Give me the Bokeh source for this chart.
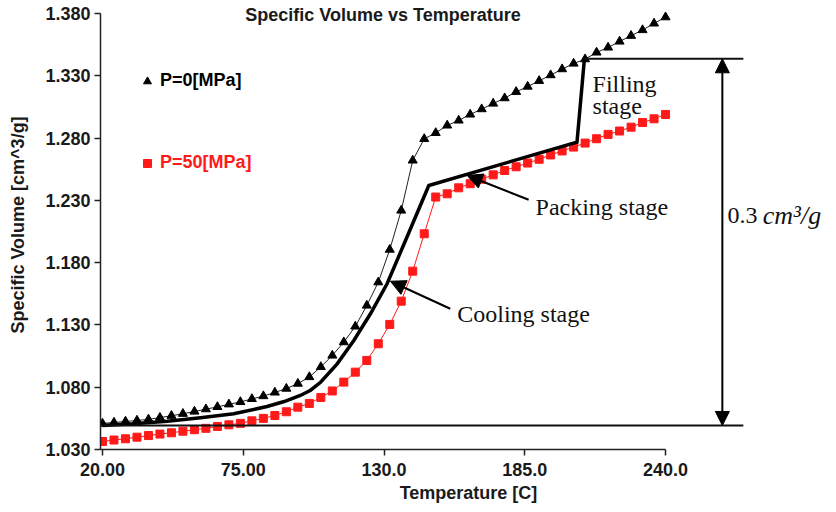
from bokeh.plotting import figure
from bokeh.models import (FixedTicker, Legend, LegendItem, Label, Arrow, NormalHead,
                          ColumnDataSource)
from bokeh.embed import file_html
from bokeh.resources import INLINE

# ---------------- data ----------------
temps = [20.00, 24.49, 28.98, 33.47, 37.96, 42.45, 46.94, 51.43, 55.92, 60.41,
         64.90, 69.39, 73.88, 78.37, 82.86, 87.35, 91.84, 96.33, 100.82, 105.31,
         109.80, 114.29, 118.78, 123.27, 127.76, 132.24, 136.73, 141.22, 145.71, 150.20,
         154.69, 159.18, 163.67, 168.16, 172.65, 177.14, 181.63, 186.12, 190.61, 195.10,
         199.59, 204.08, 208.57, 213.06, 217.55, 222.04, 226.53, 231.02, 235.51, 240.00]

v_p0 = [1.0509, 1.0517, 1.0525, 1.0533, 1.0542, 1.0556, 1.0571, 1.0587, 1.0605, 1.0624,
        1.0642, 1.0663, 1.0682, 1.0706, 1.0729, 1.0758, 1.0789, 1.0829, 1.0882, 1.0963,
        1.1055, 1.1162, 1.1288, 1.1456, 1.1643, 1.1905, 1.2219, 1.2621, 1.2794, 1.2842,
        1.2902, 1.2942, 1.2990, 1.3033, 1.3078, 1.3121, 1.3172, 1.3214, 1.3260, 1.3306,
        1.3354, 1.3399, 1.3434, 1.3488, 1.3528, 1.3576, 1.3622, 1.3668, 1.3721, 1.3771]

v_p50 = [1.0364, 1.0376, 1.0386, 1.0399, 1.0412, 1.0424, 1.0434, 1.0447, 1.0459, 1.0470,
         1.0485, 1.0498, 1.0510, 1.0530, 1.0550, 1.0573, 1.0603, 1.0640, 1.0670, 1.0718,
         1.0770, 1.0841, 1.0921, 1.1015, 1.1149, 1.1304, 1.1491, 1.1732, 1.2032, 1.2327,
         1.2353, 1.2401, 1.2434, 1.2470, 1.2505, 1.2540, 1.2570, 1.2600, 1.2630, 1.2665,
         1.2697, 1.2728, 1.2760, 1.2795, 1.2830, 1.2857, 1.2888, 1.2925, 1.2955, 1.2990]

# process path (filling -> packing -> cooling)
proc_t = [20.0, 32.1, 45.3, 58.3, 71.3, 84.3, 91.0, 97.3, 101.3, 105.2, 111.7, 118.2,
          124.7, 131.2, 138.4, 147.5, 205.4, 208.3]
proc_v = [1.0493, 1.0506, 1.0527, 1.0555, 1.0587, 1.0645, 1.0685, 1.0734, 1.0776, 1.0840,
          1.0988, 1.1175, 1.1390, 1.1631, 1.1978, 1.2420, 1.2768, 1.3437]

x_ticks = [20, 75, 130, 185, 240]
x_tick_labels = ["20.00", "75.00", "130.0", "185.0", "240.0"]
y_ticks = [1.03, 1.08, 1.13, 1.18, 1.23, 1.28, 1.33, 1.38]
y_tick_labels = ["1.030", "1.080", "1.130", "1.180", "1.230", "1.280", "1.330", "1.380"]

series_names = ["P=0[MPa]", "P=50[MPa]"]

# ---------------- figure ----------------
SANS = "Liberation Sans"
SERIF = "Liberation Serif"
X_START = 19.22

p = figure(width=836, height=512, output_backend="svg", toolbar_location=None,
           x_range=(X_START, 306.8), y_range=(1.030, 1.3905),
           min_border_left=100, min_border_right=0, min_border_top=0, min_border_bottom=63,
           background_fill_color="white", border_fill_color="white")
p.outline_line_color = None
p.xgrid.visible = False
p.ygrid.visible = False

for ax in (p.xaxis[0], p.yaxis[0]):
    ax.minor_tick_line_color = None
    ax.major_tick_in = 0
    ax.major_tick_out = 6
    ax.axis_line_width = 1.5
    ax.axis_line_color = "#222222"
    ax.major_tick_line_width = 1.5
    ax.major_tick_line_color = "#222222"
    ax.major_label_text_font = SANS
    ax.major_label_text_font_style = "bold"
    ax.major_label_text_font_size = "18px"
    ax.major_label_text_color = "#1a1a1a"
    ax.axis_label_text_font = SANS
    ax.axis_label_text_font_style = "bold"
    ax.axis_label_text_font_size = "18px"
    ax.axis_label_text_color = "#1a1a1a"

xa = p.xaxis[0]
xa.ticker = FixedTicker(ticks=x_ticks)
xa.major_label_overrides = {t: l for t, l in zip(x_ticks, x_tick_labels)}
xa.bounds = (X_START, x_ticks[-1])
xa.major_label_standoff = 7
xa.axis_label = "Temperature [C]"
xa.axis_label_standoff = 4

ya = p.yaxis[0]
ya.ticker = FixedTicker(ticks=y_ticks)
ya.major_label_overrides = {t: l for t, l in zip(y_ticks, y_tick_labels)}
ya.bounds = (y_ticks[0], y_ticks[-1])
ya.major_label_standoff = 4
ya.axis_label = "Specific Volume [cm^3/g]"
ya.axis_label_standoff = 14

# ---------------- series ----------------
src0 = ColumnDataSource(dict(t=temps, v=v_p0))
src50 = ColumnDataSource(dict(t=temps, v=v_p50))

p.line("t", "v", source=src50, line_color="#ff1a1a", line_width=1)
r50 = p.scatter("t", "v", source=src50, marker="square", size=8,
                fill_color="#ff1a1a", line_color="#ff1a1a")
p.line("t", "v", source=src0, line_color="#222222", line_width=1)
r0 = p.scatter("t", "v", source=src0, marker="triangle", size=9,
               fill_color="black", line_color="black")

p.line(proc_t, proc_v, line_color="black", line_width=3.5, line_join="miter")

# reference lines for the 0.3 cm3/g span
right_end = 270.4
p.segment(x0=[proc_t[-1], X_START], y0=[proc_v[-1], proc_v[0]],
          x1=[right_end, right_end], y1=[proc_v[-1], proc_v[0]],
          line_color="#111111", line_width=2)
p.add_layout(Arrow(start=NormalHead(size=14, fill_color="black", line_color="black"),
                   end=NormalHead(size=14, fill_color="black", line_color="black"),
                   x_start=262.2, y_start=proc_v[-1], x_end=262.2, y_end=proc_v[0],
                   line_color="black", line_width=2))

# ---------------- legends ----------------
def make_legend(name, renderer, color, loc):
    return Legend(items=[LegendItem(label=name, renderers=[renderer])], location=loc,
                  background_fill_alpha=0, border_line_color=None, padding=0, margin=0,
                  spacing=0, glyph_width=20, glyph_height=20, label_standoff=3,
                  label_text_font=SANS, label_text_font_style="bold",
                  label_text_font_size="18px", label_text_color=color)

p.add_layout(make_legend(series_names[0], r0, "black", (37, 358)))
p.add_layout(make_legend(series_names[1], r50, "#ff1a1a", (37, 276)))

# ---------------- texts ----------------
p.add_layout(Label(x=129.6, y=1.3785, text="Specific Volume vs Temperature",
                   text_align="center", text_baseline="middle", text_font=SANS,
                   text_font_style="bold", text_font_size="18px", text_color="#1a1a1a"))

def serif_label(x, y, text, style="normal", size="24px"):
    p.add_layout(Label(x=x, y=y, text=text, text_align="left", text_baseline="middle",
                       text_font=SERIF, text_font_size=size, text_font_style=style,
                       text_color="#111111"))

serif_label(211.5, 1.3238, "Filling")
serif_label(211.5, 1.3054, "stage")
serif_label(189.2, 1.2251, "Packing stage")
serif_label(158.6, 1.1386, "Cooling stage")
serif_label(264.2, 1.2181, "0.3")
serif_label(278.0, 1.2181, "cm³/g", style="italic", size="26px")

p.add_layout(Arrow(end=NormalHead(size=15, fill_color="black", line_color="black"),
                   x_start=186.5, y_start=1.2305, x_end=162.5, y_end=1.2500,
                   line_color="black", line_width=2))
p.add_layout(Arrow(end=NormalHead(size=15, fill_color="black", line_color="black"),
                   x_start=155.9, y_start=1.1430, x_end=132.5, y_end=1.1651,
                   line_color="black", line_width=2))

open("out.html", "w").write(file_html(p, INLINE))
